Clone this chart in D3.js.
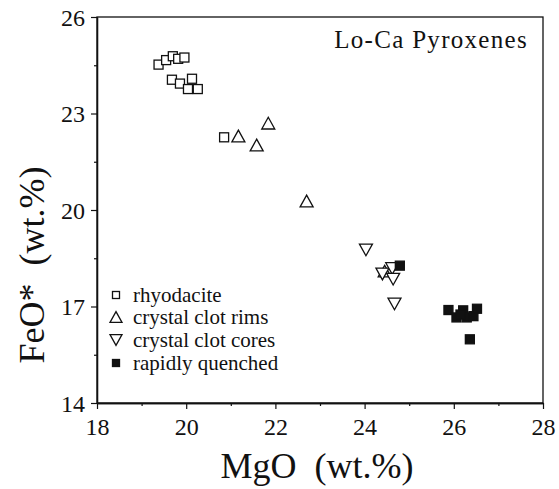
<!DOCTYPE html>
<html><head><meta charset="utf-8">
<script src="https://cdn.jsdelivr.net/npm/d3@7"></script>
<style>
html,body{margin:0;padding:0;background:#fff;}
</style></head>
<body><svg id="c" width="559" height="489"></svg>
<script>
// Data (MgO wt.%, FeO* wt.%)
const rhyodacite = [
  [19.38,24.52],[19.55,24.66],[19.70,24.78],[19.82,24.70],[19.96,24.74],
  [19.68,24.05],[19.86,23.93],[20.13,24.08],[20.04,23.76],[20.26,23.76],
  [20.85,22.26]
];
const clotRims = [
  [21.17,22.30],[21.84,22.70],[21.58,22.02],[22.70,20.28],[24.45,18.10]
];
const clotCores = [
  [24.03,18.76],[24.40,18.01],[24.62,18.18],[24.64,17.85],[24.67,17.08]
];
const quenched = [
  [24.79,18.27],[25.88,16.89],[26.06,16.66],[26.21,16.88],[26.29,16.66],
  [26.44,16.70],[26.52,16.93],[26.15,16.75],[26.36,15.98]
];
const xMajor = [18,20,22,24,26,28];
const xMinor = [19,21,23,25,27];
const yMajor = [14,17,20,23,26];
const yMinor = [15.5,18.5,21.5,24.5];
const legendItems = ["rhyodacite","crystal clot rims","crystal clot cores","rapidly quenched"];
const title = "Lo-Ca Pyroxenes";

const FONT = "Liberation Serif";
const INK = "#111";
const svg = d3.select("#c");
const L=97,R=543,T=17,B=403;
const x = d3.scaleLinear().domain([18,28]).range([L,R]);
const y = d3.scaleLinear().domain([14,26]).range([B,T]);

// frame
svg.append("rect").attr("x",L).attr("y",T).attr("width",R-L).attr("height",B-T)
  .attr("fill","none").attr("stroke",INK).attr("stroke-width",1.3);

// axes
const gx = svg.append("g").attr("transform",`translate(0,${B})`)
  .call(d3.axisBottom(x).tickValues(xMajor).tickSize(6).tickSizeOuter(0).tickFormat(d3.format("d")));
svg.append("g").attr("transform",`translate(0,${B})`)
  .call(d3.axisBottom(x).tickValues(xMinor).tickSize(3).tickSizeOuter(0).tickFormat(""));
const gy = svg.append("g").attr("transform",`translate(${L},0)`)
  .call(d3.axisLeft(y).tickValues(yMajor).tickSize(6).tickSizeOuter(0).tickFormat(d3.format("d")));
svg.append("g").attr("transform",`translate(${L},0)`)
  .call(d3.axisLeft(y).tickValues(yMinor).tickSize(3).tickSizeOuter(0).tickFormat(""));
svg.selectAll("g").attr("font-family",FONT);
svg.selectAll(".domain").attr("stroke",INK).attr("stroke-width",1.3);
svg.selectAll(".tick line").attr("stroke",INK).attr("stroke-width",1.2);
gx.selectAll("text").attr("font-size",24).attr("dy",null).attr("y",32)
  .attr("font-family",FONT).attr("fill",INK);
gy.selectAll("text").attr("font-size",24).attr("x",-12).attr("dy","0.34em")
  .attr("font-family",FONT).attr("fill",INK);

// axis titles
svg.append("text").attr("x",(L+R)/2-3).attr("y",478).attr("text-anchor","middle")
  .attr("font-family",FONT).attr("fill",INK)
  .attr("font-size",36).style("white-space","pre").text("MgO  (wt.%)");
svg.append("text").attr("transform",`translate(44,${(T+B)/2+55}) rotate(-90)`)
  .attr("font-family",FONT).attr("fill",INK)
  .attr("text-anchor","middle").attr("font-size",36).style("white-space","pre")
  .text("FeO*  (wt.%)");

// title
svg.append("text").attr("x",528).attr("y",48).attr("text-anchor","end")
  .attr("font-family",FONT).attr("fill",INK)
  .attr("font-size",25).attr("letter-spacing",1.3).text(title);

// symbols
const sw = 1.3;
function sq(g,cx,cy,s,fill){
  g.append("rect").attr("x",cx-s/2).attr("y",cy-s/2).attr("width",s).attr("height",s)
   .attr("fill",fill).attr("stroke",INK).attr("stroke-width",sw);
}
function tri(g,cx,cy,w,up){
  const h=w*0.9;
  const pts = up ? [[cx,cy-h/2],[cx+w/2,cy+h/2],[cx-w/2,cy+h/2]]
                 : [[cx,cy+h/2],[cx+w/2,cy-h/2],[cx-w/2,cy-h/2]];
  g.append("path").attr("d","M"+pts.map(p=>p.join(",")).join("L")+"Z")
   .attr("fill","#fff").attr("stroke",INK).attr("stroke-width",sw).attr("stroke-linejoin","miter");
}
const gp = svg.append("g");
rhyodacite.forEach(d=>sq(gp,x(d[0]),y(d[1]),9,"#fff"));
clotRims.forEach(d=>tri(gp,x(d[0]),y(d[1]),13,true));
clotCores.forEach(d=>tri(gp,x(d[0]),y(d[1]),13,false));
quenched.forEach(d=>sq(gp,x(d[0]),y(d[1]),9,INK));

// legend
const lg = svg.append("g");
const ly = [295,317,340,363];
legendItems.forEach((t,i)=>{
  if(i===0) sq(lg,116,ly[i],7,"#fff");
  if(i===1) tri(lg,116,ly[i],12,true);
  if(i===2) tri(lg,116,ly[i],12,false);
  if(i===3) sq(lg,116,ly[i],7,INK);
  lg.append("text").attr("x",133).attr("y",ly[i]).attr("dy","0.32em")
    .attr("font-family",FONT).attr("fill",INK).attr("font-size",21).text(t);
});
</script></body></html>
